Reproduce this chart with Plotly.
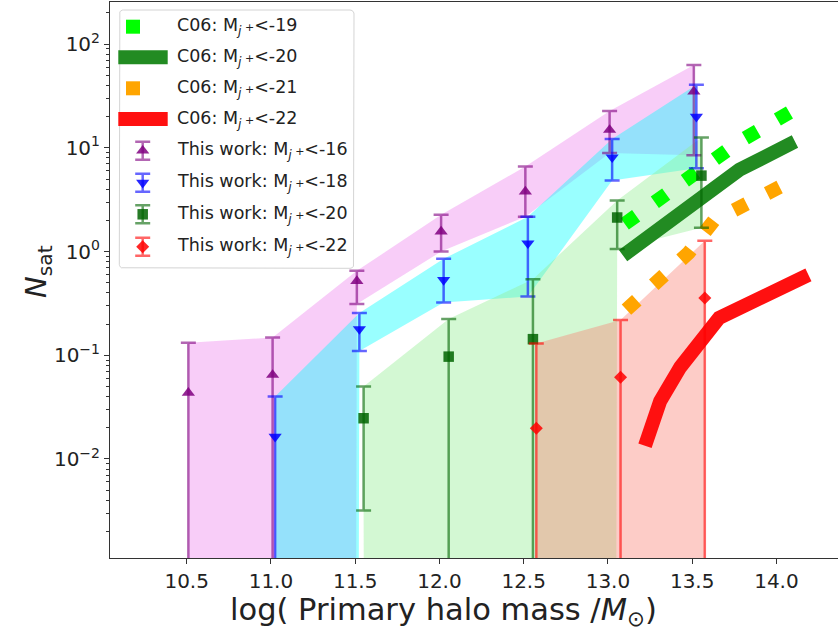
import math
import plotly.graph_objects as go

# ---------------- data ----------------
# This work: satellites per primary, with 1-sigma ranges (0 = no lower bound)
mass16 = [10.51, 11.01, 11.51, 12.01, 12.51, 13.01, 13.51]
nsat16 = [0.0434, 0.0647, 0.52, 1.56, 3.79, 14.9, 34.9]
hi16 = [0.132, 0.148, 0.652, 2.26, 6.6, 22.7, 63.0]
lo16 = [0.0, 0.0, 0.313, 1.0, 2.17, 8.9, 8.5]

mass18 = [11.025, 11.525, 12.025, 12.525, 13.025, 13.525]
nsat18 = [0.0164, 0.179, 0.533, 1.2, 8.1, 20.0]
hi18 = [0.040, 0.255, 0.851, 2.17, 12.2, 40.7]
lo18 = [0.0, 0.110, 0.322, 0.368, 4.84, 6.37]

mass20 = [11.55, 12.055, 12.555, 13.055, 13.555]
nsat20 = [0.0247, 0.097, 0.143, 2.13, 5.4]
hi20 = [0.0499, 0.224, 0.542, 3.1, 12.6]
lo20 = [0.00318, 0.0, 0.0, 1.06, 1.70]

mass22 = [12.575, 13.075, 13.575]
nsat22 = [0.0198, 0.0615, 0.356]
hi22 = [0.130, 0.219, 1.27]
lo22 = [0.0, 0.0, 0.0]

# C06 model curves
c06_19_x = [13.10, 13.78, 14.10]
c06_19_y = [1.85, 11.5, 23.0]
c06_20_x = [13.09, 13.78, 14.11]
c06_20_y = [0.914, 6.14, 11.5]
c06_21_x = [13.11, 13.48, 13.63, 14.08]
c06_21_y = [0.275, 0.977, 2.0, 4.7]
c06_22_x = [13.22, 13.31, 13.43, 13.66, 14.19]
c06_22_y = [0.0134, 0.036, 0.077, 0.229, 0.596]

xticks = [10.5, 11.0, 11.5, 12.0, 12.5, 13.0, 13.5, 14.0]
yticks = [1e-2, 1e-1, 1e0, 1e1, 1e2]
yticktext = ['10<sup>\u22122</sup>', '10<sup>\u22121</sup>', '10<sup>0</sup>',
             '10<sup>1</sup>', '10<sup>2</sup>']

# ---------------- layout geometry ----------------
W, H = 838, 631
L, T, B, R = 110, 2, 73, 0
PW = W - L - R
PH = H - T - B
XR = [10.045, 10.045 + PW / 168.5]
YR = [-2.955, -2.955 + PH / 103.7]
FONT = 'DejaVu Sans'
TXT = '#222222'

fig = go.Figure()


def floor_pos(v):
    return [a if a > 0 else 1e-300 for a in v]


def band(xs, lo, hi, color):
    fig.add_trace(go.Scatter(
        x=list(xs) + list(xs)[::-1],
        y=list(hi) + floor_pos(lo)[::-1],
        fill='toself', fillcolor=color, mode='lines',
        line=dict(color='rgba(0,0,0,0)', width=0),
        hoverinfo='skip', showlegend=False))


band(mass16, lo16, hi16, 'rgba(238,130,238,0.4)')
band(mass18, lo18, hi18, 'rgba(0,255,255,0.4)')
band(mass20, lo20, hi20, 'rgba(144,238,144,0.4)')
band(mass22, lo22, hi22, 'rgba(250,128,114,0.4)')

# C06 curves
fig.add_trace(go.Scatter(x=c06_19_x, y=c06_19_y, mode='lines',
                         line=dict(color='#00ff00', width=14, dash='14px,23px'),
                         showlegend=False))
fig.add_trace(go.Scatter(x=c06_20_x, y=c06_20_y, mode='lines',
                         line=dict(color='#228b22', width=14),
                         showlegend=False))
fig.add_trace(go.Scatter(x=c06_21_x, y=c06_21_y, mode='lines',
                         line=dict(color='#ffa500', width=14, dash='14px,23px'),
                         showlegend=False))
fig.add_trace(go.Scatter(x=c06_22_x, y=c06_22_y, mode='lines',
                         line=dict(color='#ff1010', width=14),
                         showlegend=False))


def errs(xs, ys, lo, hi, rgb, symbol, size):
    plus = [h - y for h, y in zip(hi, ys)]
    minus = [y - l for y, l in zip(ys, lo)]
    fig.add_trace(go.Scatter(
        x=xs, y=ys, mode='markers',
        marker=dict(symbol=symbol, size=size, color='rgba(%d,%d,%d,0.85)' % rgb,
                    line=dict(width=0)),
        error_y=dict(type='data', symmetric=False, array=plus, arrayminus=minus,
                     color='rgba(%d,%d,%d,0.6)' % rgb, thickness=2.5, width=7.5),
        showlegend=False))


errs(mass16, nsat16, lo16, hi16, (128, 0, 128), 'triangle-up', 11.5)
errs(mass18, nsat18, lo18, hi18, (0, 0, 255), 'triangle-down', 11.5)
errs(mass20, nsat20, lo20, hi20, (0, 100, 0), 'square', 10.5)
errs(mass22, nsat22, lo22, hi22, (255, 0, 0), 'diamond', 10)

# ---------------- hand-made legend (pixel overlay axes) ----------------
bx0, by0, bx1, by1, rad = 9.3, 8.0, 244.0, 266.3, 4.0
corner = [(bx1 - rad, by0 + rad, -90), (bx1 - rad, by1 - rad, 0),
          (bx0 + rad, by1 - rad, 90), (bx0 + rad, by0 + rad, 180)]
lx, ly = [], []
for cx, cy, a0 in corner:
    for k in range(7):
        a = math.radians(a0 + 15 * k)
        lx.append(cx + rad * math.cos(a))
        ly.append(cy + rad * math.sin(a))
lx.append(lx[0]); ly.append(ly[0])
fig.add_trace(go.Scatter(x=lx, y=ly, xaxis='x2', yaxis='y2', mode='lines',
                         fill='toself', fillcolor='rgba(255,255,255,0.8)',
                         line=dict(color='#d4d4d4', width=1), showlegend=False,
                         hoverinfo='skip'))

rows = [24.7, 55.3, 86.3, 117.0, 148.7, 180.7, 212.3, 244.7]
mj = 'M<sub><i>j</i></sub><span style="font-size:11px"> +</span>'
labels = ['C06: ' + mj + '&lt;-19', 'C06: ' + mj + '&lt;-20',
          'C06: ' + mj + '&lt;-21', 'C06: ' + mj + '&lt;-22',
          'This work: ' + mj + '&lt;-16', 'This work: ' + mj + '&lt;-18',
          'This work: ' + mj + '&lt;-20', 'This work: ' + mj + '&lt;-22']

fig.add_trace(go.Scatter(x=[16, 52], y=[rows[0]] * 2, xaxis='x2', yaxis='y2', mode='lines',
                         line=dict(color='#00ff00', width=14, dash='14px,23px'),
                         showlegend=False))
fig.add_trace(go.Scatter(x=[8.3, 57.7], y=[rows[1]] * 2, xaxis='x2', yaxis='y2', mode='lines',
                         line=dict(color='#228b22', width=14), showlegend=False))
fig.add_trace(go.Scatter(x=[16, 52], y=[rows[2]] * 2, xaxis='x2', yaxis='y2', mode='lines',
                         line=dict(color='#ffa500', width=14, dash='14px,23px'),
                         showlegend=False))
fig.add_trace(go.Scatter(x=[8.3, 57.7], y=[rows[3]] * 2, xaxis='x2', yaxis='y2', mode='lines',
                         line=dict(color='#ff1010', width=14), showlegend=False))
for r, rgb, sym, sz in [(rows[4], (128, 0, 128), 'triangle-up', 11.5),
                        (rows[5], (0, 0, 255), 'triangle-down', 11.5),
                        (rows[6], (0, 100, 0), 'square', 10.5),
                        (rows[7], (255, 0, 0), 'diamond', 10)]:
    fig.add_trace(go.Scatter(
        x=[32.7], y=[r], xaxis='x2', yaxis='y2', mode='markers',
        marker=dict(symbol=sym, size=sz, color='rgba(%d,%d,%d,0.85)' % rgb),
        error_y=dict(type='constant', value=9, color='rgba(%d,%d,%d,0.6)' % rgb,
                     thickness=2.5, width=7.5),
        showlegend=False))

annotations = []
for r, t in zip(rows, labels):
    annotations.append(dict(x=65, y=r, xref='x2', yref='y2', text=t, showarrow=False,
                            xanchor='left', yanchor='middle',
                            font=dict(family=FONT, size=17.5, color=TXT)))

# axis titles
annotations.append(dict(x=(443 - L) / PW, y=-(611 - T - PH) / PH, xref='paper', yref='paper',
                        text='log( Primary halo mass /<i>M</i><sub>\u2299</sub>)',
                        showarrow=False, xanchor='center', yanchor='middle',
                        font=dict(family=FONT, size=30.5, color=TXT)))
annotations.append(dict(x=(38 - L) / PW, y=1 - (272 - T) / PH, xref='paper', yref='paper',
                        text='<i>N</i><sub>sat</sub>', textangle=-90,
                        showarrow=False, xanchor='center', yanchor='middle',
                        font=dict(family=FONT, size=29, color=TXT)))

minor_vals = []
for e in range(-3, 3):
    for m in range(2, 10):
        minor_vals.append(m * 10 ** e)

fig.update_layout(
    width=W, height=H,
    margin=dict(l=L, r=R, t=T, b=B),
    paper_bgcolor='white', plot_bgcolor='white',
    showlegend=False,
    annotations=annotations,
    xaxis=dict(range=XR, showgrid=False, zeroline=False, showline=True, mirror=True,
               linecolor='#333333', linewidth=1, ticks='outside', ticklen=5,
               tickcolor='#333333', tickvals=xticks,
               ticktext=['%.1f' % v for v in xticks],
               tickfont=dict(family=FONT, size=20, color=TXT)),
    yaxis=dict(type='log', range=YR, showgrid=False, zeroline=False, showline=True,
               linecolor='#333333', linewidth=1, ticks='outside', ticklen=5,
               tickcolor='#333333', tickvals=yticks, ticktext=yticktext,
               tickfont=dict(family=FONT, size=20, color=TXT),
               minor=dict(tickvals=minor_vals, ticks='outside', ticklen=3,
                          tickcolor='#333333', showgrid=False)),
    xaxis2=dict(overlaying='x', range=[0, PW], visible=False),
    yaxis2=dict(overlaying='y', range=[PH, 0], visible=False),
)

fig.write_html('out.html')
